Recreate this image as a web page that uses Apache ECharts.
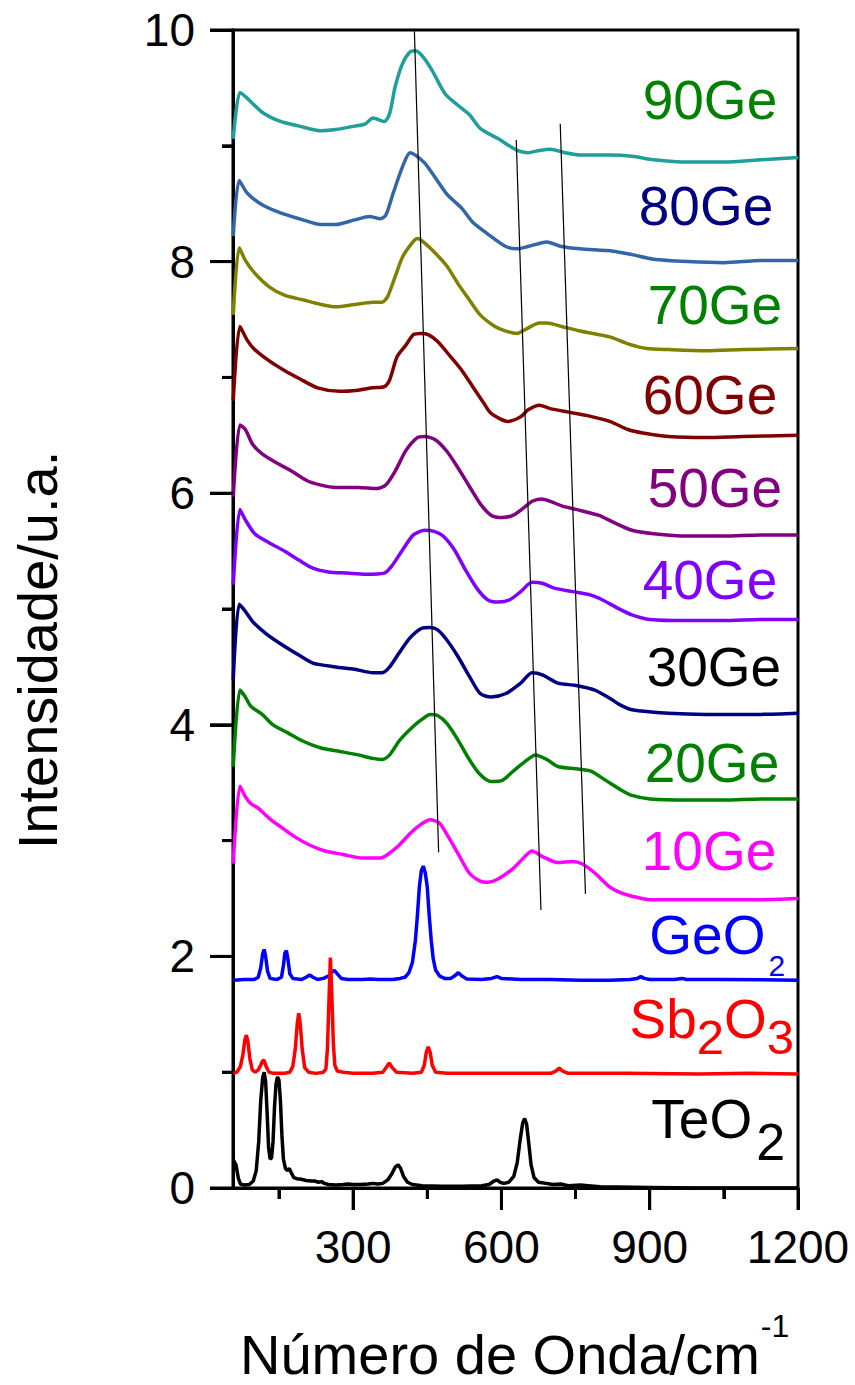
<!DOCTYPE html>
<html>
<head>
<meta charset="utf-8">
<script src="https://cdn.jsdelivr.net/npm/echarts@6/dist/echarts.min.js"></script>
<style>
  html, body { margin: 0; padding: 0; background: #fff; }
  #chart { width: 855px; height: 1385px; }
</style>
</head>
<body>
<div id="chart"></div>
<script>
// Raman spectra: wavenumber (cm-1) vs. stacked intensity (a.u.)
const ge90 = [[57.5,9.06],[71,9.46],[86,9.41],[116,9.29],[153,9.21],[191,9.17],[235,9.13],[265,9.14],[303,9.17],[325,9.19],[340,9.24],[363,9.21],[374,9.28],[385,9.51],[400,9.71],[415,9.81],[426,9.82],[441,9.77],[460,9.65],[486,9.45],[512,9.35],[535,9.27],[557,9.15],[594,9.06],[632,8.96],[654,8.94],[677,8.96],[699,8.97],[729,8.94],[759,8.92],[819,8.92],[864,8.91],[908,8.88],[976,8.86],[1050,8.86],[1125,8.88],[1200,8.90]];
const ge80 = [[57.5,8.22],[69.5,8.70],[86,8.59],[116,8.49],[153,8.42],[191,8.37],[235,8.32],[265,8.32],[303,8.36],[333,8.39],[355,8.37],[366,8.40],[381,8.59],[400,8.82],[415,8.94],[426,8.92],[445,8.85],[467,8.72],[490,8.58],[520,8.46],[542,8.34],[572,8.24],[609,8.13],[632,8.11],[654,8.13],[692,8.17],[722,8.13],[759,8.11],[826,8.09],[864,8.06],[908,8.02],[976,8.00],[1050,7.99],[1125,8.01],[1200,8.01]];
const ge70 = [[57.5,7.54],[69.5,8.12],[82,8.01],[101,7.90],[131,7.78],[161,7.71],[198,7.67],[235,7.63],[265,7.61],[303,7.63],[340,7.65],[359,7.65],[370,7.70],[385,7.87],[400,8.04],[419,8.16],[430,8.20],[445,8.16],[467,8.07],[490,7.96],[512,7.81],[535,7.67],[557,7.54],[587,7.44],[609,7.40],[632,7.38],[647,7.41],[677,7.47],[692,7.47],[722,7.44],[759,7.40],[819,7.35],[856,7.29],[894,7.25],[938,7.24],[1013,7.23],[1088,7.24],[1200,7.25]];
const ge60 = [[57.5,6.80],[71,7.44],[86,7.32],[101,7.24],[131,7.14],[161,7.06],[191,6.99],[228,6.91],[273,6.88],[310,6.89],[340,6.91],[363,6.92],[374,6.98],[389,7.18],[407,7.28],[422,7.37],[437,7.38],[452,7.37],[471,7.31],[497,7.18],[520,7.06],[542,6.92],[564,6.78],[579,6.69],[613,6.62],[639,6.66],[654,6.72],[677,6.76],[699,6.73],[736,6.70],[774,6.67],[819,6.62],[856,6.55],[886,6.52],[938,6.49],[1013,6.48],[1088,6.49],[1200,6.50]];
const ge50 = [[57.5,5.97],[71,6.59],[82,6.55],[97,6.42],[116,6.34],[146,6.26],[176,6.19],[206,6.11],[235,6.07],[265,6.05],[310,6.05],[348,6.04],[366,6.07],[385,6.19],[407,6.37],[430,6.48],[445,6.49],[467,6.46],[490,6.36],[512,6.22],[535,6.06],[557,5.91],[579,5.81],[602,5.79],[624,5.81],[647,5.88],[662,5.93],[680,5.95],[699,5.93],[722,5.89],[751,5.86],[796,5.81],[826,5.75],[864,5.68],[908,5.65],[976,5.63],[1050,5.63],[1125,5.64],[1200,5.64]];
const ge40 = [[57.5,5.21],[71,5.86],[82,5.77],[101,5.65],[131,5.57],[161,5.50],[191,5.42],[220,5.35],[250,5.32],[288,5.31],[325,5.30],[363,5.31],[378,5.37],[400,5.51],[422,5.64],[445,5.68],[464,5.67],[482,5.63],[505,5.51],[527,5.34],[550,5.18],[572,5.08],[594,5.06],[617,5.08],[639,5.15],[662,5.23],[684,5.22],[707,5.18],[744,5.15],[781,5.12],[804,5.08],[834,5.01],[864,4.95],[901,4.91],[976,4.90],[1050,4.90],[1125,4.91],[1200,4.91]];
const ge30 = [[57.5,4.39],[69.5,5.04],[82,4.98],[97,4.89],[123,4.79],[153,4.70],[191,4.60],[220,4.53],[265,4.50],[303,4.48],[340,4.45],[359,4.45],[374,4.50],[393,4.62],[415,4.75],[437,4.83],[456,4.84],[471,4.82],[490,4.73],[512,4.59],[535,4.42],[557,4.27],[579,4.24],[609,4.27],[639,4.36],[662,4.45],[684,4.43],[714,4.36],[751,4.34],[789,4.30],[819,4.23],[841,4.17],[864,4.13],[938,4.10],[1013,4.09],[1125,4.09],[1200,4.10]];
const ge20 = [[57.5,3.64],[71,4.30],[82,4.24],[93,4.16],[116,4.09],[138,4.00],[168,3.93],[198,3.86],[235,3.80],[273,3.77],[310,3.74],[340,3.71],[359,3.70],[374,3.74],[393,3.86],[415,3.96],[437,4.04],[456,4.09],[471,4.08],[490,4.01],[512,3.87],[535,3.70],[557,3.57],[579,3.51],[602,3.52],[624,3.60],[647,3.68],[669,3.74],[692,3.70],[714,3.64],[751,3.62],[781,3.60],[811,3.52],[841,3.44],[864,3.39],[901,3.36],[976,3.35],[1050,3.35],[1125,3.36],[1200,3.36]];
const ge10 = [[57.5,2.80],[71,3.47],[82,3.38],[93,3.32],[108,3.28],[131,3.19],[153,3.12],[183,3.03],[213,2.96],[243,2.91],[280,2.88],[318,2.85],[355,2.85],[370,2.88],[393,2.96],[415,3.06],[437,3.14],[456,3.18],[475,3.15],[493,3.03],[512,2.89],[535,2.72],[557,2.65],[572,2.64],[594,2.67],[624,2.76],[647,2.86],[662,2.91],[684,2.86],[714,2.81],[744,2.82],[763,2.80],[789,2.72],[819,2.60],[841,2.55],[864,2.52],[901,2.49],[976,2.49],[1050,2.49],[1125,2.49],[1200,2.50]];
const geo2 = [[58,1.795],[80,1.80],[100,1.80],[108,1.82],[113,1.90],[117,2.02],[120,2.06],[123,2.00],[127,1.87],[132,1.81],[145,1.80],[155,1.82],[159,1.92],[162,2.03],[165,2.05],[168,1.98],[172,1.85],[178,1.81],[195,1.80],[205,1.82],[212,1.84],[219,1.82],[228,1.80],[240,1.81],[250,1.83],[256,1.86],[262,1.88],[268,1.85],[276,1.81],[290,1.80],[320,1.80],[335,1.805],[350,1.80],[380,1.80],[395,1.81],[405,1.82],[413,1.86],[420,1.95],[426,2.14],[430,2.35],[434,2.60],[438,2.74],[442,2.78],[446,2.72],[450,2.60],[454,2.35],[458,2.14],[462,1.98],[467,1.88],[475,1.83],[485,1.81],[497,1.81],[505,1.83],[513,1.86],[520,1.83],[530,1.805],[560,1.80],[580,1.81],[591,1.825],[600,1.81],[640,1.80],[700,1.80],[760,1.795],[820,1.795],[860,1.80],[875,1.81],[882,1.825],[889,1.81],[900,1.80],[950,1.80],[965,1.81],[975,1.80],[1050,1.80],[1200,1.795]];
const sb2o3 = [[58,0.99],[65,1.00],[72,1.05],[77,1.15],[81,1.28],[84,1.32],[87,1.27],[91,1.12],[96,1.02],[102,1.00],[108,1.02],[113,1.06],[117,1.10],[120,1.10],[124,1.05],[130,1.00],[140,0.99],[160,0.99],[172,1.00],[178,1.05],[183,1.20],[187,1.42],[190,1.51],[193,1.42],[197,1.20],[202,1.04],[210,1.00],[225,0.99],[240,1.00],[245,1.03],[248,1.20],[251,1.60],[254,1.99],[257,1.65],[260,1.25],[263,1.06],[268,1.01],[280,1.00],[300,0.99],[340,0.99],[360,1.00],[367,1.04],[373,1.08],[379,1.04],[388,1.00],[420,0.99],[438,1.00],[444,1.06],[448,1.17],[452,1.22],[456,1.17],[460,1.06],[467,1.00],[490,0.99],[600,0.99],[700,0.99],[710,1.01],[717,1.035],[724,1.01],[735,0.99],[850,0.99],[1000,0.985],[1100,0.99],[1200,0.985]];
const teo2 = [[58,0.24],[63,0.20],[68,0.08],[72,0.035],[80,0.025],[90,0.03],[98,0.06],[104,0.15],[109,0.40],[113,0.75],[117,0.95],[120,1.00],[123,0.92],[126,0.65],[129,0.35],[132,0.25],[135,0.26],[138,0.40],[141,0.70],[144,0.90],[147,0.96],[150,0.93],[153,0.75],[156,0.45],[159,0.25],[163,0.17],[167,0.15],[171,0.17],[175,0.13],[180,0.09],[186,0.08],[195,0.075],[205,0.065],[215,0.06],[222,0.06],[230,0.05],[236,0.055],[242,0.04],[250,0.03],[265,0.025],[280,0.03],[290,0.035],[300,0.03],[315,0.03],[330,0.035],[340,0.04],[350,0.035],[360,0.04],[370,0.07],[378,0.12],[385,0.18],[391,0.20],[396,0.17],[402,0.10],[410,0.05],[420,0.03],[440,0.02],[480,0.015],[520,0.015],[560,0.02],[575,0.03],[585,0.06],[591,0.07],[597,0.05],[605,0.04],[615,0.05],[625,0.10],[632,0.22],[638,0.42],[643,0.56],[647,0.60],[651,0.55],[655,0.40],[660,0.20],[666,0.09],[675,0.05],[690,0.04],[705,0.03],[720,0.035],[735,0.02],[760,0.025],[775,0.02],[800,0.01],[900,0.005],[1000,0.0],[1100,0.0],[1200,0.0]];

// Band-shift guide lines (start and end points)
const guide1 = [[424,9.99],[473,2.90]];
const guide2 = [[630,9.05],[680,2.40]];
const guide3 = [[719,9.19],[770,2.54]];

// Axis ticks
const xMajorTicks = [300, 600, 900, 1200];
const xMinorTicks = [150, 450, 750, 1050];
const yMajorTicks = [0, 2, 4, 6, 8, 10];
const yMinorTicks = [1, 3, 5, 7, 9];

const X_MIN = 57, X_MAX = 1200;
const FONT = 'Liberation Sans, Arial, Helvetica, sans-serif';

const spectra = [
  { name: '90Ge', data: ge90, color: '#1f9e9a', smooth: 0.25 },
  { name: '80Ge', data: ge80, color: '#3366a8', smooth: 0.25 },
  { name: '70Ge', data: ge70, color: '#808000', smooth: 0.25 },
  { name: '60Ge', data: ge60, color: '#800000', smooth: 0.25 },
  { name: '50Ge', data: ge50, color: '#800080', smooth: 0.25 },
  { name: '40Ge', data: ge40, color: '#8000ff', smooth: 0.25 },
  { name: '30Ge', data: ge30, color: '#000080', smooth: 0.25 },
  { name: '20Ge', data: ge20, color: '#008000', smooth: 0.25 },
  { name: '10Ge', data: ge10, color: '#ff00ff', smooth: 0.25 },
  { name: 'GeO2', data: geo2, color: '#0000ff', smooth: 0 },
  { name: 'Sb2O3', data: sb2o3, color: '#ff0000', smooth: 0 },
  { name: 'TeO2', data: teo2, color: '#000000', smooth: 0 }
];

// Curve name tags: right edge and vertical centre in data units
const partStyles = {
  main: { size: 55, dy: 0, gap: 0 },
  sub:  { size: 49, dy: 18, gap: 0 },
  sub2: { size: 52, dy: 23, gap: 4 },
  tiny: { size: 30, dy: 31, gap: 3 }
};
const curveTags = [
  { parts: [['90Ge', 'main']], at: [1158, 9.395], color: '#008000' },
  { parts: [['80Ge', 'main']], at: [1150, 8.48], color: '#000080' },
  { parts: [['70Ge', 'main']], at: [1168, 7.625], color: '#008000' },
  { parts: [['60Ge', 'main']], at: [1158, 6.848], color: '#800000' },
  { parts: [['50Ge', 'main']], at: [1168, 6.045], color: '#800080' },
  { parts: [['40Ge', 'main']], at: [1158, 5.25], color: '#8000ff' },
  { parts: [['30Ge', 'main']], at: [1166, 4.499], color: '#000000' },
  { parts: [['20Ge', 'main']], at: [1162, 3.67], color: '#008000' },
  { parts: [['10Ge', 'main']], at: [1156, 2.911], color: '#ff00ff' },
  { parts: [['GeO', 'main'], ['2', 'tiny']], at: [1174, 2.185], color: '#0000ff' },
  { parts: [['Sb', 'main'], ['2', 'sub'], ['O', 'main'], ['3', 'sub']], at: [1192, 1.459], color: '#ff0000' },
  { parts: [['TeO', 'main'], ['2', 'sub2']], at: [1174, 0.596], color: '#000000' }
];

const measureCtx = document.createElement('canvas').getContext('2d');
function textWidth(t, size) {
  measureCtx.font = size + 'px ' + FONT;
  return measureCtx.measureText(t).width;
}

const plainNumber = v => String(v);
const tickStyle = { color: '#000', width: 3 };

const gridOpt = { left: 233, right: 57, top: 30, bottom: 197, show: true, borderColor: '#000', borderWidth: 3 };
const xAxisOpt = [
  {
    type: 'value', min: X_MIN, max: X_MAX, position: 'bottom',
    axisLine: { show: true, onZero: false, lineStyle: { color: '#000', width: 3 } },
    axisTick: { show: true, customValues: xMajorTicks, length: 22, lineStyle: tickStyle },
    axisLabel: { show: true, customValues: xMajorTicks, formatter: plainNumber, fontSize: 46, fontFamily: FONT, color: '#000', margin: 36 },
    splitLine: { show: false }
  },
  {
    type: 'value', min: X_MIN, max: X_MAX, position: 'bottom',
    axisLine: { show: false, onZero: false },
    axisTick: { show: true, customValues: xMinorTicks, length: 11, lineStyle: tickStyle },
    axisLabel: { show: false },
    splitLine: { show: false }
  }
];
const yAxisOpt = {
  type: 'value', min: 0, max: 10, interval: 2,
  axisLine: { show: true, onZero: false, lineStyle: { color: '#000', width: 3 } },
  axisTick: { show: true, length: 23, lineStyle: tickStyle },
  minorTick: { show: true, splitNumber: 2, length: 11, lineStyle: tickStyle },
  axisLabel: { formatter: plainNumber, fontSize: 46, fontFamily: FONT, color: '#000', margin: 38 },
  splitLine: { show: false },
  minorSplitLine: { show: false }
};

// A scratch instance with the same grid and axes gives the pixel positions
// of overlay items, so the visible chart is built with a single setOption.
const scratchDom = document.createElement('div');
scratchDom.style.cssText = 'position:absolute;left:-10000px;top:0;width:855px;height:1385px;';
document.body.appendChild(scratchDom);
const scratch = echarts.init(scratchDom, null, { renderer: 'canvas', width: 855, height: 1385 });
scratch.setOption({ animation: false, grid: gridOpt, xAxis: xAxisOpt, yAxis: yAxisOpt, series: [{ type: 'line', data: [] }] });
const toPx = pt => scratch.convertToPixel({ xAxisIndex: 0, yAxisIndex: 0 }, pt);

const graphics = [];

// Outward tick marks as thin filled bars at the scale positions
const TICK_W = 3;
function addBar(x, y, w, h) {
  graphics.push({
    type: 'rect', silent: true, z: 10,
    shape: { x: x, y: y, width: w, height: h },
    style: { fill: '#000' }
  });
}
yMajorTicks.forEach(v => { const p = toPx([X_MIN, v]); addBar(p[0] - 23, p[1] - TICK_W / 2, 23, TICK_W); });
yMinorTicks.forEach(v => { const p = toPx([X_MIN, v]); addBar(p[0] - 11, p[1] - TICK_W / 2, 11, TICK_W); });
xMajorTicks.forEach(v => { const p = toPx([v, 0]); addBar(p[0] - TICK_W / 2, p[1], TICK_W, 22); });
xMinorTicks.forEach(v => { const p = toPx([v, 0]); addBar(p[0] - TICK_W / 2, p[1], TICK_W, 11); });

// Text overlays: axis titles and curve tags
function addText(text, x, y, size, color) {
  graphics.push({
    type: 'text', x: x, y: y, silent: true,
    style: {
      text: text, fill: color, font: size + 'px ' + FONT,
      align: 'left', verticalAlign: 'middle',
      textAlign: 'left', textVerticalAlign: 'middle'
    }
  });
}

curveTags.forEach(tag => {
  const p = toPx(tag.at);
  let right = p[0];
  for (let i = tag.parts.length - 1; i >= 0; i--) {
    const [t, kind] = tag.parts[i];
    const st = partStyles[kind];
    const w = textWidth(t, st.size);
    addText(t, right - w, p[1] + st.dy, st.size, tag.color);
    right -= w + st.gap;
  }
});

scratch.dispose();
scratchDom.remove();

// x-axis title with superscript exponent
const xTitle = 'Número de Onda/cm';
const xTitleSize = 56;
const xTitleLeft = 240;
addText(xTitle, xTitleLeft, 1354, xTitleSize, '#000');
addText('-1', xTitleLeft + textWidth(xTitle, xTitleSize) + 1, 1326, 32, '#000');

// y-axis title, rotated
graphics.push({
  type: 'text', x: 37, y: 650, rotation: Math.PI / 2, silent: true,
  style: {
    text: 'Intensidade/u.a.', fill: '#000', font: '56px ' + FONT,
    align: 'center', verticalAlign: 'middle',
    textAlign: 'center', textVerticalAlign: 'middle'
  }
});

const series = spectra.map(s => ({
  name: s.name,
  type: 'line',
  data: s.data,
  showSymbol: false,
  smooth: s.smooth,
  lineStyle: { color: s.color, width: 3.5 },
  itemStyle: { color: s.color },
  silent: true
}));
[guide1, guide2, guide3].forEach((g, i) => {
  series.push({
    name: 'guide' + (i + 1),
    type: 'line',
    data: g,
    showSymbol: false,
    lineStyle: { color: '#000', width: 1.2 },
    silent: true
  });
});

const chart = echarts.init(document.getElementById('chart'), null, { renderer: 'svg' });
chart.setOption({
  animation: false,
  grid: gridOpt,
  xAxis: xAxisOpt,
  yAxis: yAxisOpt,
  series: series,
  graphic: graphics
});
</script>
</body>
</html>
